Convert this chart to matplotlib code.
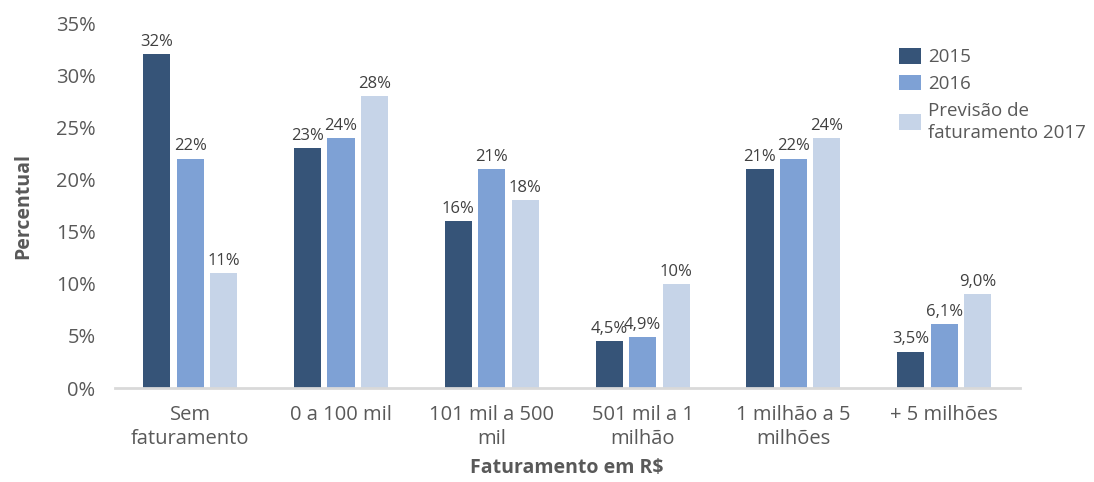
import matplotlib
matplotlib.use("Agg")
import matplotlib.pyplot as plt
import numpy as np
from matplotlib.patches import Patch

plt.rcParams['font.family'] = ['Open Sans', 'DejaVu Sans']

categories = ["Sem\nfaturamento", "0 a 100 mil", "101 mil a 500\nmil",
              "501 mil a 1\nmilhão", "1 milhão a 5\nmilhões", "+ 5 milhões"]
series_names = ["2015", "2016", "Previsão de\nfaturamento 2017"]
v2015 = [32, 23, 16, 4.5, 21, 3.5]
v2016 = [22, 24, 21, 4.9, 22, 6.1]
v2017 = [11, 28, 18, 10, 24, 9.0]
yticks = [0, 5, 10, 15, 20, 25, 30, 35]

colors = ["#365478", "#7ea1d5", "#c6d4e8"]
tick_color = "#595959"
label_color = "#404040"


def fmt(v):
    if v < 10:
        return f"{v:.1f}".replace(".", ",") + "%"
    return f"{v:.0f}%"


fig = plt.figure(figsize=(10.94, 4.82), dpi=100)
ax = fig.add_axes([0.105, 0.195, 0.827, 0.757])

x = np.arange(len(categories))
width = 0.18
step = 0.222
for i, (vals, c) in enumerate(zip([v2015, v2016, v2017], colors)):
    pos = x + (i - 1) * step
    bars = ax.bar(pos, vals, width=width, color=c)
    for b, v in zip(bars, vals):
        ax.annotate(fmt(v), (b.get_x() + b.get_width() / 2, v),
                    xytext=(0, 3), textcoords="offset points",
                    ha="center", va="bottom", fontsize=12, color=label_color)

ax.set_xlim(-0.5, len(categories) - 0.5)
ax.set_ylim(0, 35)
ax.set_yticks(yticks)
ax.set_yticklabels([f"{t}%" for t in yticks], fontsize=14.5, color=tick_color)
ax.set_xticks(x)
ax.set_xticklabels(categories, fontsize=14.5, color=tick_color, linespacing=1.3)
ax.tick_params(axis="both", length=0)
ax.tick_params(axis="y", pad=14)
ax.tick_params(axis="x", pad=12)

for s in ["top", "right", "left"]:
    ax.spines[s].set_visible(False)
ax.spines["bottom"].set_color("#d9d9d9")
ax.spines["bottom"].set_linewidth(2)

ax.set_ylabel("Percentual", fontsize=14, fontweight="bold", color=tick_color, labelpad=16)
ax.set_xlabel("Faturamento em R$", fontsize=14, fontweight="bold", color=tick_color, labelpad=6)

handles = [Patch(facecolor=c, edgecolor="none") for c in colors]
leg = fig.legend(handles, series_names, loc="upper left",
                 bbox_to_anchor=(0.806, 0.935), frameon=False,
                 fontsize=13.5, handlelength=1.2, handleheight=0.9,
                 handletextpad=0.35, labelspacing=0.45)
for t in leg.get_texts():
    t.set_color(tick_color)
    t.set_linespacing(1.3)

fig.savefig("out.png", dpi=100)
